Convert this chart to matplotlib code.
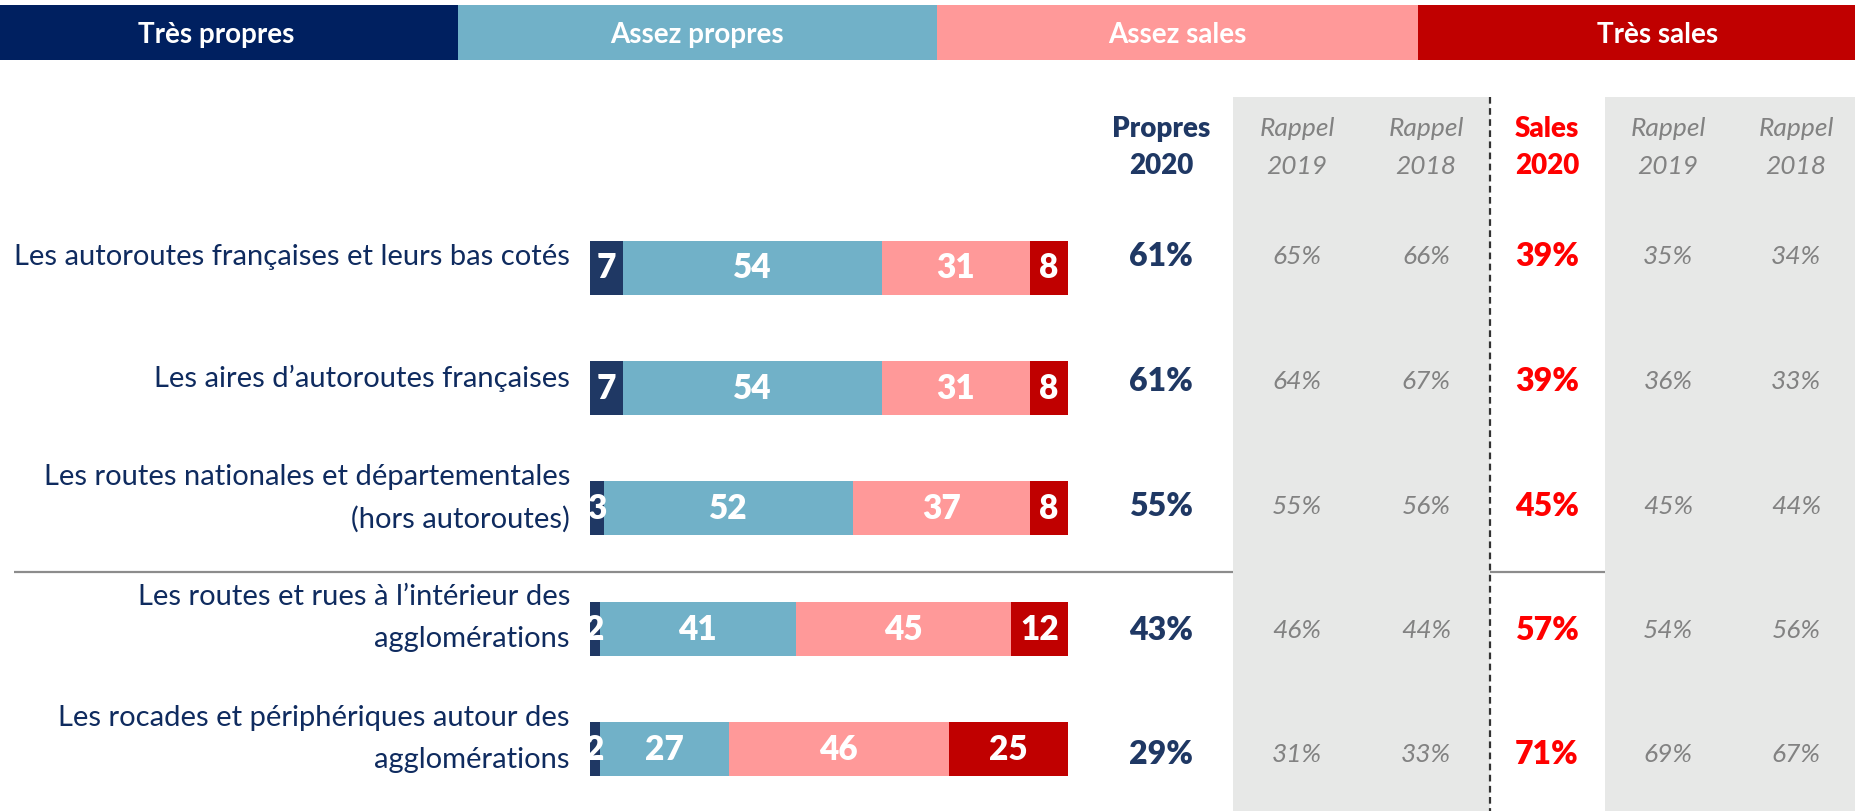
import matplotlib
matplotlib.use("Agg")
import matplotlib.pyplot as plt
from matplotlib.patches import Rectangle
import numpy as np

plt.rcParams["font.family"] = ["Lato", "DejaVu Sans"]

# ---- data -------------------------------------------------------------
categories = [
    "Les autoroutes françaises et leurs bas cotés",
    "Les aires d’autoroutes françaises",
    "Les routes nationales et départementales\n(hors autoroutes)",
    "Les routes et rues à l’intérieur des\nagglomérations",
    "Les rocades et périphériques autour des\nagglomérations",
]
segment_names = ["Très propres", "Assez propres", "Assez sales", "Très sales"]
tres_propres = [7, 7, 3, 2, 2]
assez_propres = [54, 54, 52, 41, 27]
assez_sales = [31, 31, 37, 45, 46]
tres_sales = [8, 8, 8, 12, 25]

propres_2020 = [61, 61, 55, 43, 29]
propres_2019 = [65, 64, 55, 46, 31]
propres_2018 = [66, 67, 56, 44, 33]
sales_2020 = [39, 39, 45, 57, 71]
sales_2019 = [35, 36, 45, 54, 69]
sales_2018 = [34, 33, 44, 56, 67]

# ---- style ------------------------------------------------------------
W, H = 1856, 811
seg_colors = ["#1F3864", "#71B1C8", "#FF9999", "#C00000"]
band_colors = ["#002060", "#71B1C8", "#FF9999", "#C00000"]
navy = "#1F3864"
label_navy = "#0F2B5F"
red = "#FF0000"
grey_txt = "#828282"
grey_band = "#E7E8E7"

fig = plt.figure(figsize=(W / 100, H / 100), dpi=100)

# background axes in pixel units for decorations and side columns
bg = fig.add_axes([0, 0, 1, 1])
bg.set_xlim(0, W)
bg.set_ylim(H, 0)
bg.axis("off")

# header legend band
band_edges = [0, 458, 937, 1418, W]
band_text_x = [216, 697, 1177, 1658]
for i, name in enumerate(segment_names):
    bg.add_patch(Rectangle((band_edges[i], 5), band_edges[i + 1] - band_edges[i], 55,
                           facecolor=band_colors[i], edgecolor="none", zorder=1))
    bg.text(band_text_x[i], 35, name, ha="center", va="center", color="white",
            fontsize=20, fontweight="bold", zorder=3)

# grey "rappel" panels
bg.add_patch(Rectangle((1233, 97), 1490 - 1233, H - 97, facecolor=grey_band,
                       edgecolor="none", zorder=2))
bg.add_patch(Rectangle((1605, 97), W - 1605, H - 97, facecolor=grey_band,
                       edgecolor="none", zorder=2))

# separator between road types and vertical divider
bg.plot([14, 1605], [572, 572], color="#8C8C8C", lw=1.6, zorder=1,
        solid_capstyle="butt")
bg.plot([1490, 1490], [97, H], color="#333333", lw=1.6, zorder=4,
        dashes=(3, 2))

# column headers
col_x = [1161, 1297, 1426, 1547, 1668, 1796]
headers = [("Propres", "2020"), ("Rappel", "2019"), ("Rappel", "2018"),
           ("Sales", "2020"), ("Rappel", "2019"), ("Rappel", "2018")]
head_styles = [dict(color=navy, fontweight="heavy", fontsize=20),
               dict(color=grey_txt, fontstyle="italic", fontsize=19),
               dict(color=grey_txt, fontstyle="italic", fontsize=19),
               dict(color=red, fontweight="heavy", fontsize=20),
               dict(color=grey_txt, fontstyle="italic", fontsize=19),
               dict(color=grey_txt, fontstyle="italic", fontsize=19)]
for x, (l1, l2), st in zip(col_x, headers, head_styles):
    bg.text(x, 129, l1, ha="center", va="center", zorder=5, **st)
    bg.text(x, 166, l2, ha="center", va="center", zorder=5, **st)

# percentage columns
text_y = 257 + 124.5 * np.arange(len(categories))
columns = [propres_2020, propres_2019, propres_2018, sales_2020, sales_2019, sales_2018]
val_styles = [dict(color=navy, fontweight="heavy", fontsize=23),
              dict(color=grey_txt, fontstyle="italic", fontsize=19),
              dict(color=grey_txt, fontstyle="italic", fontsize=19),
              dict(color=red, fontweight="heavy", fontsize=23),
              dict(color=grey_txt, fontstyle="italic", fontsize=19),
              dict(color=grey_txt, fontstyle="italic", fontsize=19)]
for x, vals, st in zip(col_x, columns, val_styles):
    for y, v in zip(text_y, vals):
        bg.text(x, y, f"{v}%", ha="center", va="center", zorder=5, **st)

# row labels
label_y = [257, 378, 498, 618, 739]
for y, lab in zip(label_y, categories):
    bg.text(570, y, lab, ha="right", va="center", color=label_navy,
            fontsize=21, linespacing=1.72, zorder=5)

# ---- stacked bars -----------------------------------------------------
ax = fig.add_axes([590 / W, 0, 478 / W, 1])
ax.set_xlim(0, 100)
ax.set_ylim(H, 0)
ax.axis("off")
ax.patch.set_alpha(0)

bar_y = 267.5 + 120.4 * np.arange(len(categories))
series = [tres_propres, assez_propres, assez_sales, tres_sales]
left = np.zeros(len(categories))
for vals, c in zip(series, seg_colors):
    vals = np.asarray(vals, dtype=float)
    ax.barh(bar_y, vals, left=left, height=54, color=c, edgecolor="none")
    for y, l, v in zip(bar_y, left, vals):
        ax.text(l + v / 2, y + 1, f"{int(v)}", ha="center", va="center",
                color="white", fontsize=24, fontweight="heavy", clip_on=False)
    left += vals

fig.savefig("out.png", dpi=100)
